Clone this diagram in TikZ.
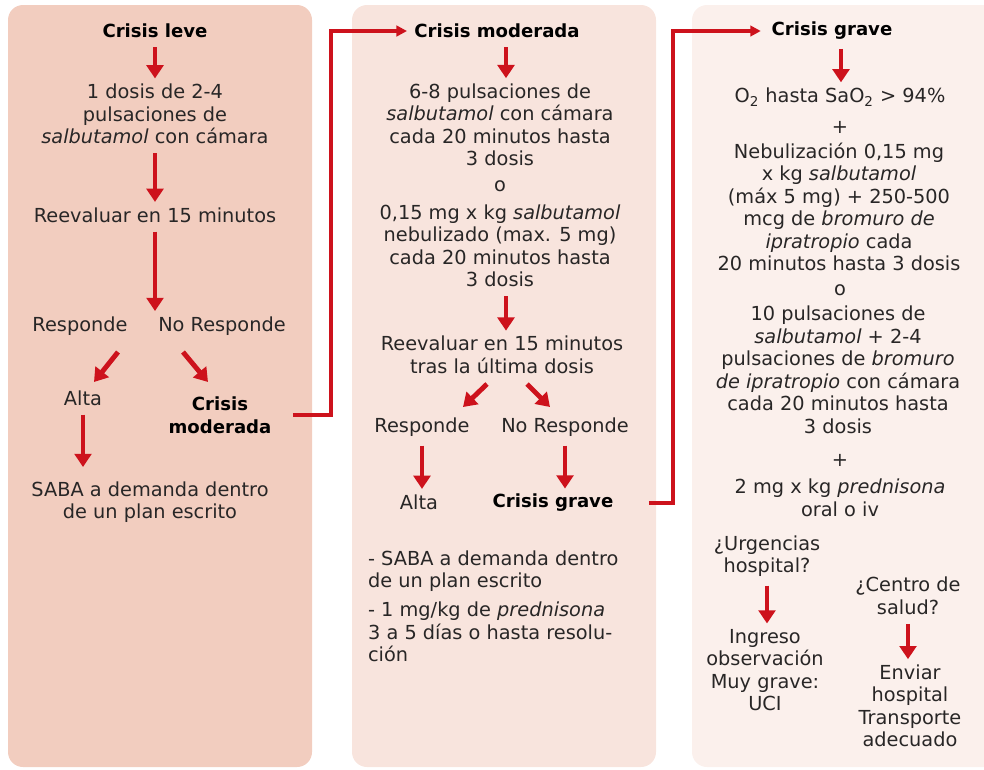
\documentclass[tikz,border=0pt]{standalone}
\usepackage{fontspec}
\setmainfont{DejaVu Sans}
\usetikzlibrary{positioning,arrows.meta,calc}
\definecolor{crisisred}{RGB}{205,18,28}
\definecolor{levefill}{RGB}{242,205,191}
\definecolor{moderadafill}{RGB}{248,228,221}
\definecolor{gravefill}{RGB}{251,240,236}
\definecolor{textgray}{RGB}{40,38,38}

\begin{document}
\begin{tikzpicture}[x=0.02cm,y=-0.02cm,
    txt/.style={align=center,inner sep=1pt,text=textgray,font=\fontsize{11}{12.8}\selectfont},
    head/.style={txt,text=black,font=\fontsize{10.3}{12.8}\selectfont\bfseries},
    down/.style={draw=crisisred,line width=2.8pt,-{Triangle[width=9.5pt,length=7.5pt]},shorten <=4pt,shorten >=2pt},
    diag/.style={down,shorten <=0pt,shorten >=0pt},
    link/.style={draw=crisisred,line width=1.8pt,-{Triangle[width=6pt,length=6pt]}}]
    \clip (0,0) rectangle (984,769);
    % Panels
    \fill[levefill,rounded corners=0.3cm] (8,5) rectangle (312,767);
    \fill[moderadafill,rounded corners=0.3cm] (352,5) rectangle (656,767);
    \fill[gravefill,rounded corners=0.3cm] (692,5) rectangle (1010,767);
    \coordinate (ax1) at (155,0);
    \coordinate (ax2) at (506,0);
    \coordinate (ax3) at (841,0);

    % Crisis leve
    \node[head] (leve) at (155,31) {Crisis leve};
    \node[txt] (dosis) at (155,114) {1 dosis de 2-4\\pulsaciones de\\\textit{salbutamol} con cámara};
    \node[txt] (reev1) at (155,215) {Reevaluar en 15 minutos};
    \node[txt] (resp1) at (80,326) {Responde};
    \node[txt] (noresp1) at (222,326) {No Responde};
    \node[txt] (alta1) at (83,398) {Alta};
    \node[head] (mod1) at (220,415) {Crisis\\moderada};
    \node[txt] (saba1) at (150,502) {SABA a demanda dentro\\de un plan escrito};

    \draw[down] (leve.south -| ax1) -- (dosis.north -| ax1);
    \draw[down] (dosis.south -| ax1) -- (reev1.north -| ax1);
    \draw[down] (reev1.south -| ax1) -- (resp1.north -| ax1);
    \draw[diag] ($(resp1)+(38,26)$) -- ($(alta1)+(11,-16)$);
    \draw[diag] ($(noresp1)+(-39,26)$) -- ($(mod1)+(-12,-33)$);
    \draw[down,shorten >=7pt] (alta1.south) -- (alta1.south |- saba1.north);

    % Crisis moderada
    \node[head] (head2) at (497,31) {Crisis moderada};
    \node[txt] (blk1) at (500,125) {6-8 pulsaciones de\\\textit{salbutamol} con cámara\\cada 20 minutos hasta\\3 dosis};
    \node[txt] (or2) at (500,186) {o};
    \node[txt] (blk2) at (500,246) {0,15 mg x kg \textit{salbutamol}\\nebulizado (max. 5 mg)\\cada 20 minutos hasta\\3 dosis};
    \node[txt] (reev2) at (502,355) {Reevaluar en 15 minutos\\tras la última dosis};
    \node[txt] (resp2) at (422,427) {Responde};
    \node[txt] (noresp2) at (565,427) {No Responde};
    \node[txt] (alta2) at (419,502) {Alta};
    \node[head] (grave2) at (553,503) {Crisis grave};
    \node[txt,align=left,anchor=west] (bul1) at (366,571) {- SABA a demanda dentro\\de un plan escrito};
    \node[txt,align=left,anchor=west] (bul2) at (366,632) {- 1 mg/kg de \textit{prednisona}\\3 a 5 días o hasta resolu-\\ción};

    \draw[down] (head2.south -| ax2) -- (blk1.north -| ax2);
    \draw[down] (blk2.south -| ax2) -- (reev2.north -| ax2);
    \draw[diag] ($(reev2)+(-15,29)$) -- ($(resp2)+(41,-20)$);
    \draw[diag] ($(reev2)+(25,29)$) -- ($(noresp2)+(-15,-20)$);
    \draw[down] (resp2.south) -- (resp2.south |- alta2.north);
    \draw[down] (noresp2.south) -- (noresp2.south |- grave2.north);

    % Crisis grave
    \node[head] (head3) at (832,31) {Crisis grave};
    \node[txt] (oxy) at (840,97) {O\textsubscript{2} hasta SaO\textsubscript{2} > 94\%};
    \node[txt] (plus1) at (840,127) {+};
    \node[txt] (neb) at (839,207) {Nebulización 0,15 mg\\x kg \textit{salbutamol}\\(máx 5 mg) + 250-500\\mcg de \textit{bromuro de}\\\textit{ipratropio} cada\\20 minutos hasta 3 dosis};
    \node[txt] (or3) at (840,290) {o};
    \node[txt] (puls) at (838,370) {10 pulsaciones de\\\textit{salbutamol} + 2-4\\pulsaciones de \textit{bromuro}\\\textit{de ipratropio} con cámara\\cada 20 minutos hasta\\3 dosis};
    \node[txt] (plus2) at (840,460) {+};
    \node[txt] (pred) at (840,498) {2 mg x kg \textit{prednisona}\\oral o iv};
    \node[txt] (urg) at (767,556) {¿Urgencias\\hospital?};
    \node[txt] (cen) at (908,596) {¿Centro de\\salud?};
    \node[txt] (ing) at (765,670) {Ingreso\\observación\\Muy grave:\\UCI};
    \node[txt] (env) at (910,706) {Enviar\\hospital\\Transporte\\adecuado};

    \draw[down] (head3.south -| ax3) -- (oxy.north -| ax3);
    \draw[down] (urg.south) -- (urg.south |- ing.north);
    \draw[down] (cen.south) -- (cen.south |- env.north);

    % Links between panels
    \coordinate (bend1) at (331,31);
    \coordinate (bend2) at (673,31);
    \draw[link,shorten <=11pt,shorten >=3pt] (mod1.east) -| (bend1) -- (head2.west);
    \draw[link,shorten <=19pt,shorten >=5pt] (grave2.east) -| (bend2) -- (head3.west);
\end{tikzpicture}
\end{document}
